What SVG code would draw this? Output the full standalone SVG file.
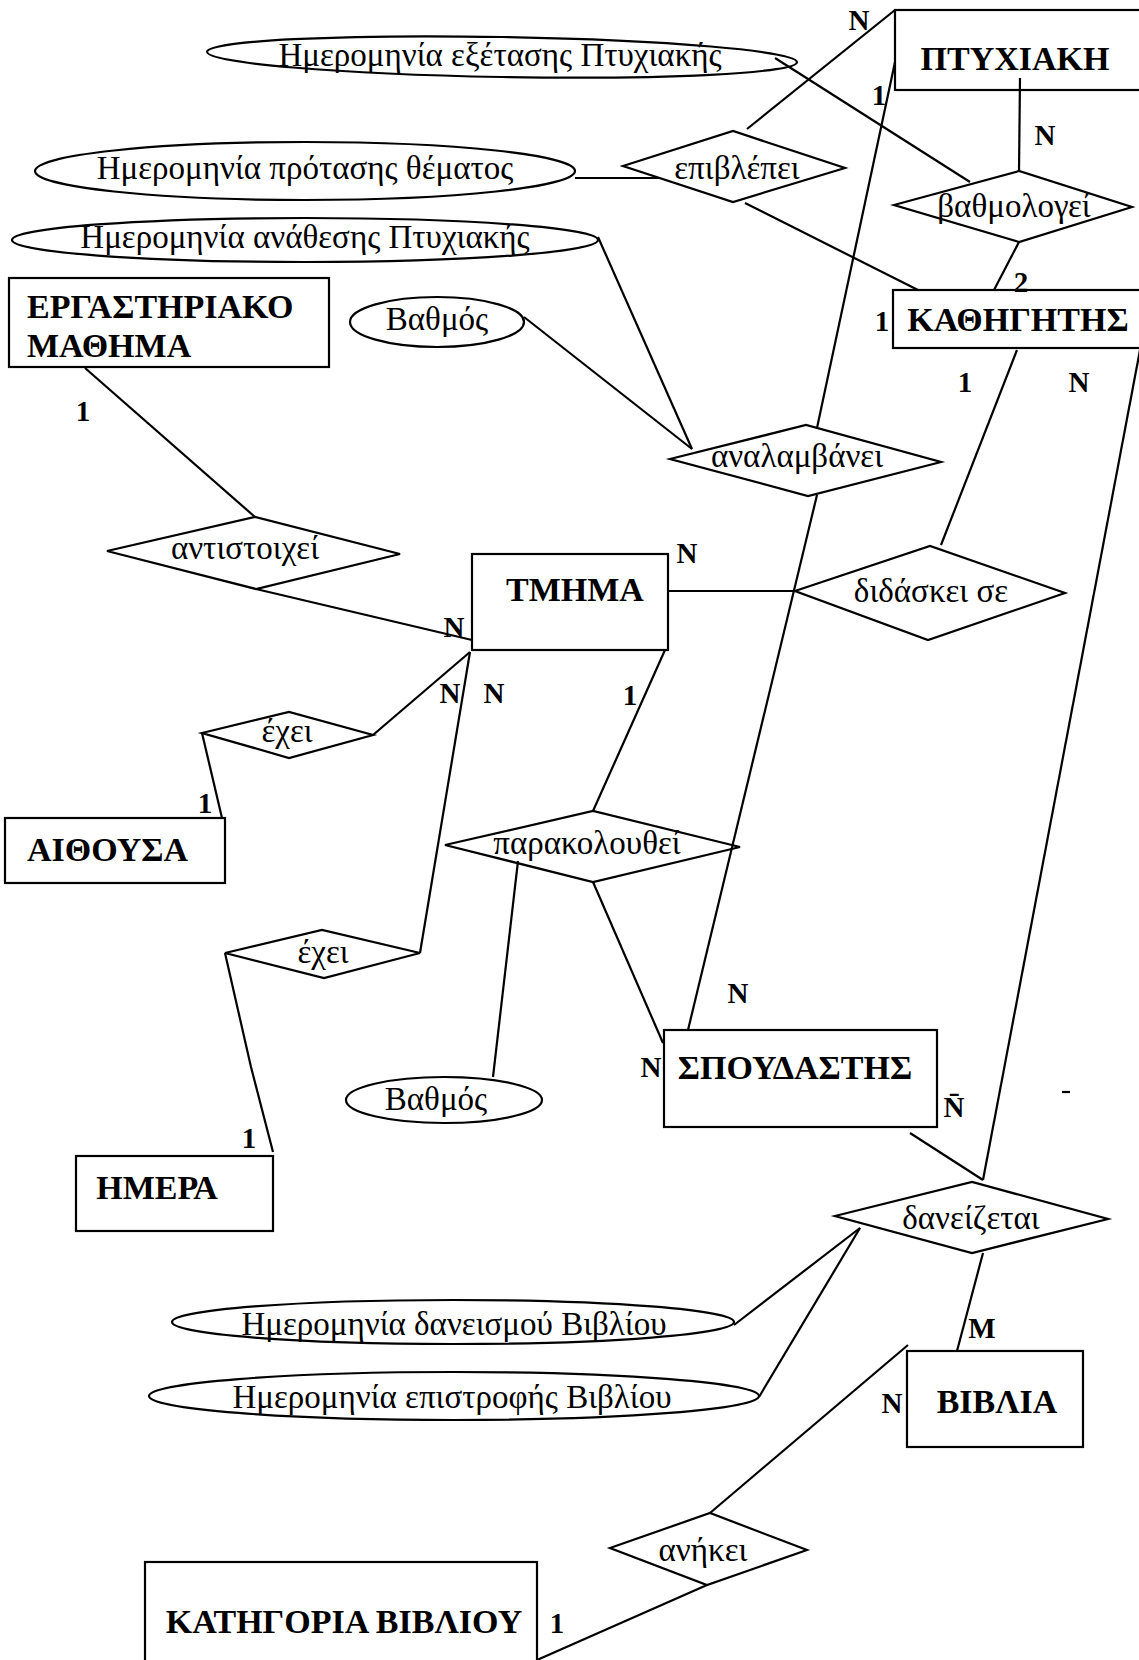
<svg xmlns="http://www.w3.org/2000/svg" width="1139" height="1660" viewBox="0 0 1139 1660">
<style>
.ent{fill:#fff;stroke:#000;stroke-width:2.2}
.rel{fill:#fff;stroke:#000;stroke-width:2.2}
.att{fill:#fff;stroke:#000;stroke-width:2.2}
.et{font-family:"Liberation Serif","Times New Roman",serif;font-weight:bold;font-size:34px;fill:#000}
.rt{font-family:"Liberation Serif","Times New Roman",serif;font-size:33px;fill:#000;text-anchor:middle}
.lb{font-family:"Liberation Serif","Times New Roman",serif;font-weight:bold;font-size:29px;fill:#000;text-anchor:middle}
.c{stroke:#000;stroke-width:2.2;fill:none}
</style>
<rect width="1139" height="1660" fill="#fff"/>
<g id="nodes">
<g id="ptyxiaki"><rect class="ent" x="895" y="10" width="260" height="80"/><text class="et" x="1015" y="70" text-anchor="middle">ΠΤΥΧΙΑΚΗ</text></g>
<g id="kathigitis"><rect class="ent" x="893" y="290" width="260" height="58"/><text class="et" x="1018" y="331" text-anchor="middle">ΚΑΘΗΓΗΤΗΣ</text></g>
<g id="ergastiriako"><rect class="ent" x="9" y="278" width="320" height="89"/><text class="et" x="27" y="318">ΕΡΓΑΣΤΗΡΙΑΚΟ</text><text class="et" x="27" y="357">ΜΑΘΗΜΑ</text></g>
<g id="tmima"><rect class="ent" x="472" y="554" width="196" height="96"/><text class="et" x="575" y="601" text-anchor="middle">ΤΜΗΜΑ</text></g>
<g id="aithousa"><rect class="ent" x="5" y="818" width="220" height="65"/><text class="et" x="27" y="861">ΑΙΘΟΥΣΑ</text></g>
<g id="imera"><rect class="ent" x="76" y="1156" width="197" height="75"/><text class="et" x="157" y="1199" text-anchor="middle">ΗΜΕΡΑ</text></g>
<g id="spoudastis"><rect class="ent" x="664" y="1030" width="273" height="97"/><text class="et" x="795" y="1079" text-anchor="middle">ΣΠΟΥΔΑΣΤΗΣ</text></g>
<g id="vivlia"><rect class="ent" x="907" y="1351" width="176" height="96"/><text class="et" x="997" y="1413" text-anchor="middle">ΒΙΒΛΙΑ</text></g>
<g id="katigoria"><rect class="ent" x="145" y="1562" width="392" height="110"/><text class="et" x="344" y="1633" text-anchor="middle">ΚΑΤΗΓΟΡΙΑ ΒΙΒΛΙΟΥ</text></g>

<g id="a_exetasis"><ellipse class="att" cx="502" cy="57" rx="295" ry="20" transform="rotate(1 502 57)"/><text class="rt" x="500" y="66">Ημερομηνία εξέτασης Πτυχιακής</text></g>
<g id="a_protasis"><ellipse class="att" cx="305" cy="171" rx="270" ry="29"/><text class="rt" x="305" y="179">Ημερομηνία πρότασης θέματος</text></g>
<g id="a_anathesis"><ellipse class="att" cx="305" cy="240" rx="293" ry="22"/><text class="rt" x="305" y="248">Ημερομηνία ανάθεσης Πτυχιακής</text></g>
<g id="a_vathmos1"><ellipse class="att" cx="437" cy="322" rx="87" ry="25"/><text class="rt" x="437" y="330">Βαθμός</text></g>
<g id="a_vathmos2"><ellipse class="att" cx="444" cy="1100" rx="98" ry="23"/><text class="rt" x="436" y="1110">Βαθμός</text></g>
<g id="a_daneismou"><ellipse class="att" cx="453" cy="1322" rx="281" ry="22"/><text class="rt" x="454" y="1335">Ημερομηνία δανεισμού Βιβλίου</text></g>
<g id="a_epistrofis"><ellipse class="att" cx="454" cy="1396" rx="305" ry="24"/><text class="rt" x="452" y="1408">Ημερομηνία επιστροφής Βιβλίου</text></g>

<g id="r_epivlepei"><polygon class="rel" points="623,166 733,131 845,168 733,202"/><text class="rt" x="737" y="179">επιβλέπει</text></g>
<g id="r_vathmologei"><polygon class="rel" points="894,205 1019,171 1132,207 1019,242"/><text class="rt" x="1014" y="217">βαθμολογεί</text></g>
<g id="r_analamvanei"><polygon class="rel" points="670,459 806,425 941,462 808,496"/><text class="rt" x="797" y="467">αναλαμβάνει</text></g>
<g id="r_antistoixei"><polygon class="rel" points="107,551 255,517 400,554 256,589"/><text class="rt" x="245" y="559">αντιστοιχεί</text></g>
<g id="r_didaskei"><polygon class="rel" points="795,591 930,546 1065,593 928,640"/><text class="rt" x="931" y="602">διδάσκει σε</text></g>
<g id="r_exei1"><polygon class="rel" points="202,733 289,712 373,735 289,758"/><text class="rt" x="287" y="742">έχει</text></g>
<g id="r_exei2"><polygon class="rel" points="225,953 322,930 420,953 324,978"/><text class="rt" x="323" y="963">έχει</text></g>
<g id="r_parakolouthei"><polygon class="rel" points="445,845 593,811 740,847 593,882"/><text class="rt" x="587" y="854">παρακολουθεί</text></g>
<g id="r_daneizetai"><polygon class="rel" points="835,1216 972,1182 1108,1219 972,1253"/><text class="rt" x="971" y="1229">δανείζεται</text></g>
<g id="r_anikei"><polygon class="rel" points="610,1548 710,1513 807,1550 707,1585"/><text class="rt" x="703" y="1561">ανήκει</text></g>
</g>

<g id="connectors">
<line class="c" x1="895" y1="10" x2="747" y2="129"/>
<line class="c" x1="775" y1="58" x2="970" y2="182"/>
<line class="c" x1="1020" y1="78" x2="1019" y2="171"/>
<line class="c" x1="575" y1="178" x2="660" y2="178"/>
<line class="c" x1="745" y1="203" x2="918" y2="290"/>
<line class="c" x1="895" y1="62" x2="817" y2="428"/>
<line class="c" x1="1019" y1="242" x2="994" y2="290"/>
<line class="c" x1="598" y1="237" x2="692" y2="449"/>
<line class="c" x1="524" y1="317" x2="692" y2="449"/>
<line class="c" x1="1017" y1="350" x2="941" y2="545"/>
<line class="c" x1="1140" y1="350" x2="983" y2="1180"/>
<line class="c" x1="85" y1="368" x2="255" y2="517"/>
<line class="c" x1="256" y1="589" x2="472" y2="640"/>
<line class="c" x1="668" y1="591" x2="795" y2="591"/>
<line class="c" x1="470" y1="652" x2="373" y2="735"/>
<line class="c" x1="202" y1="733" x2="222" y2="818"/>
<line class="c" x1="470" y1="652" x2="420" y2="953"/>
<polyline class="c" points="225,953 251,1067 273,1152"/>
<line class="c" x1="665" y1="650" x2="593" y2="811"/>
<line class="c" x1="817" y1="495" x2="688" y2="1030"/>
<line class="c" x1="593" y1="882" x2="663" y2="1043"/>
<line class="c" x1="493" y1="1077" x2="518" y2="861"/>
<line class="c" x1="910" y1="1133" x2="983" y2="1180"/>
<line class="c" x1="734" y1="1325" x2="860" y2="1228"/>
<line class="c" x1="759" y1="1397" x2="860" y2="1228"/>
<line class="c" x1="983" y1="1253" x2="957" y2="1351"/>
<line class="c" x1="908" y1="1345" x2="710" y2="1513"/>
<line class="c" x1="707" y1="1585" x2="537" y2="1660"/>
<line class="c" x1="1062" y1="1092" x2="1070" y2="1092"/>
</g>

<g id="labels">
<text class="lb" x="859" y="30">N</text>
<text class="lb" x="879" y="105">1</text>
<text class="lb" x="1045" y="145">N</text>
<text class="lb" x="1021" y="292">2</text>
<text class="lb" x="882" y="331">1</text>
<text class="lb" x="965" y="392">1</text>
<text class="lb" x="1079" y="392">N</text>
<text class="lb" x="83" y="421">1</text>
<text class="lb" x="687" y="563">N</text>
<text class="lb" x="454" y="637">N</text>
<text class="lb" x="450" y="703">N</text>
<text class="lb" x="494" y="703">N</text>
<text class="lb" x="630" y="705">1</text>
<text class="lb" x="205" y="813">1</text>
<text class="lb" x="738" y="1003">N</text>
<text class="lb" x="651" y="1077">N</text>
<text class="lb" x="954" y="1117">N̄</text>
<text class="lb" x="249" y="1148">1</text>
<text class="lb" x="982" y="1338">M</text>
<text class="lb" x="892" y="1413">N</text>
<text class="lb" x="557" y="1633">1</text>
</g>
</svg>
